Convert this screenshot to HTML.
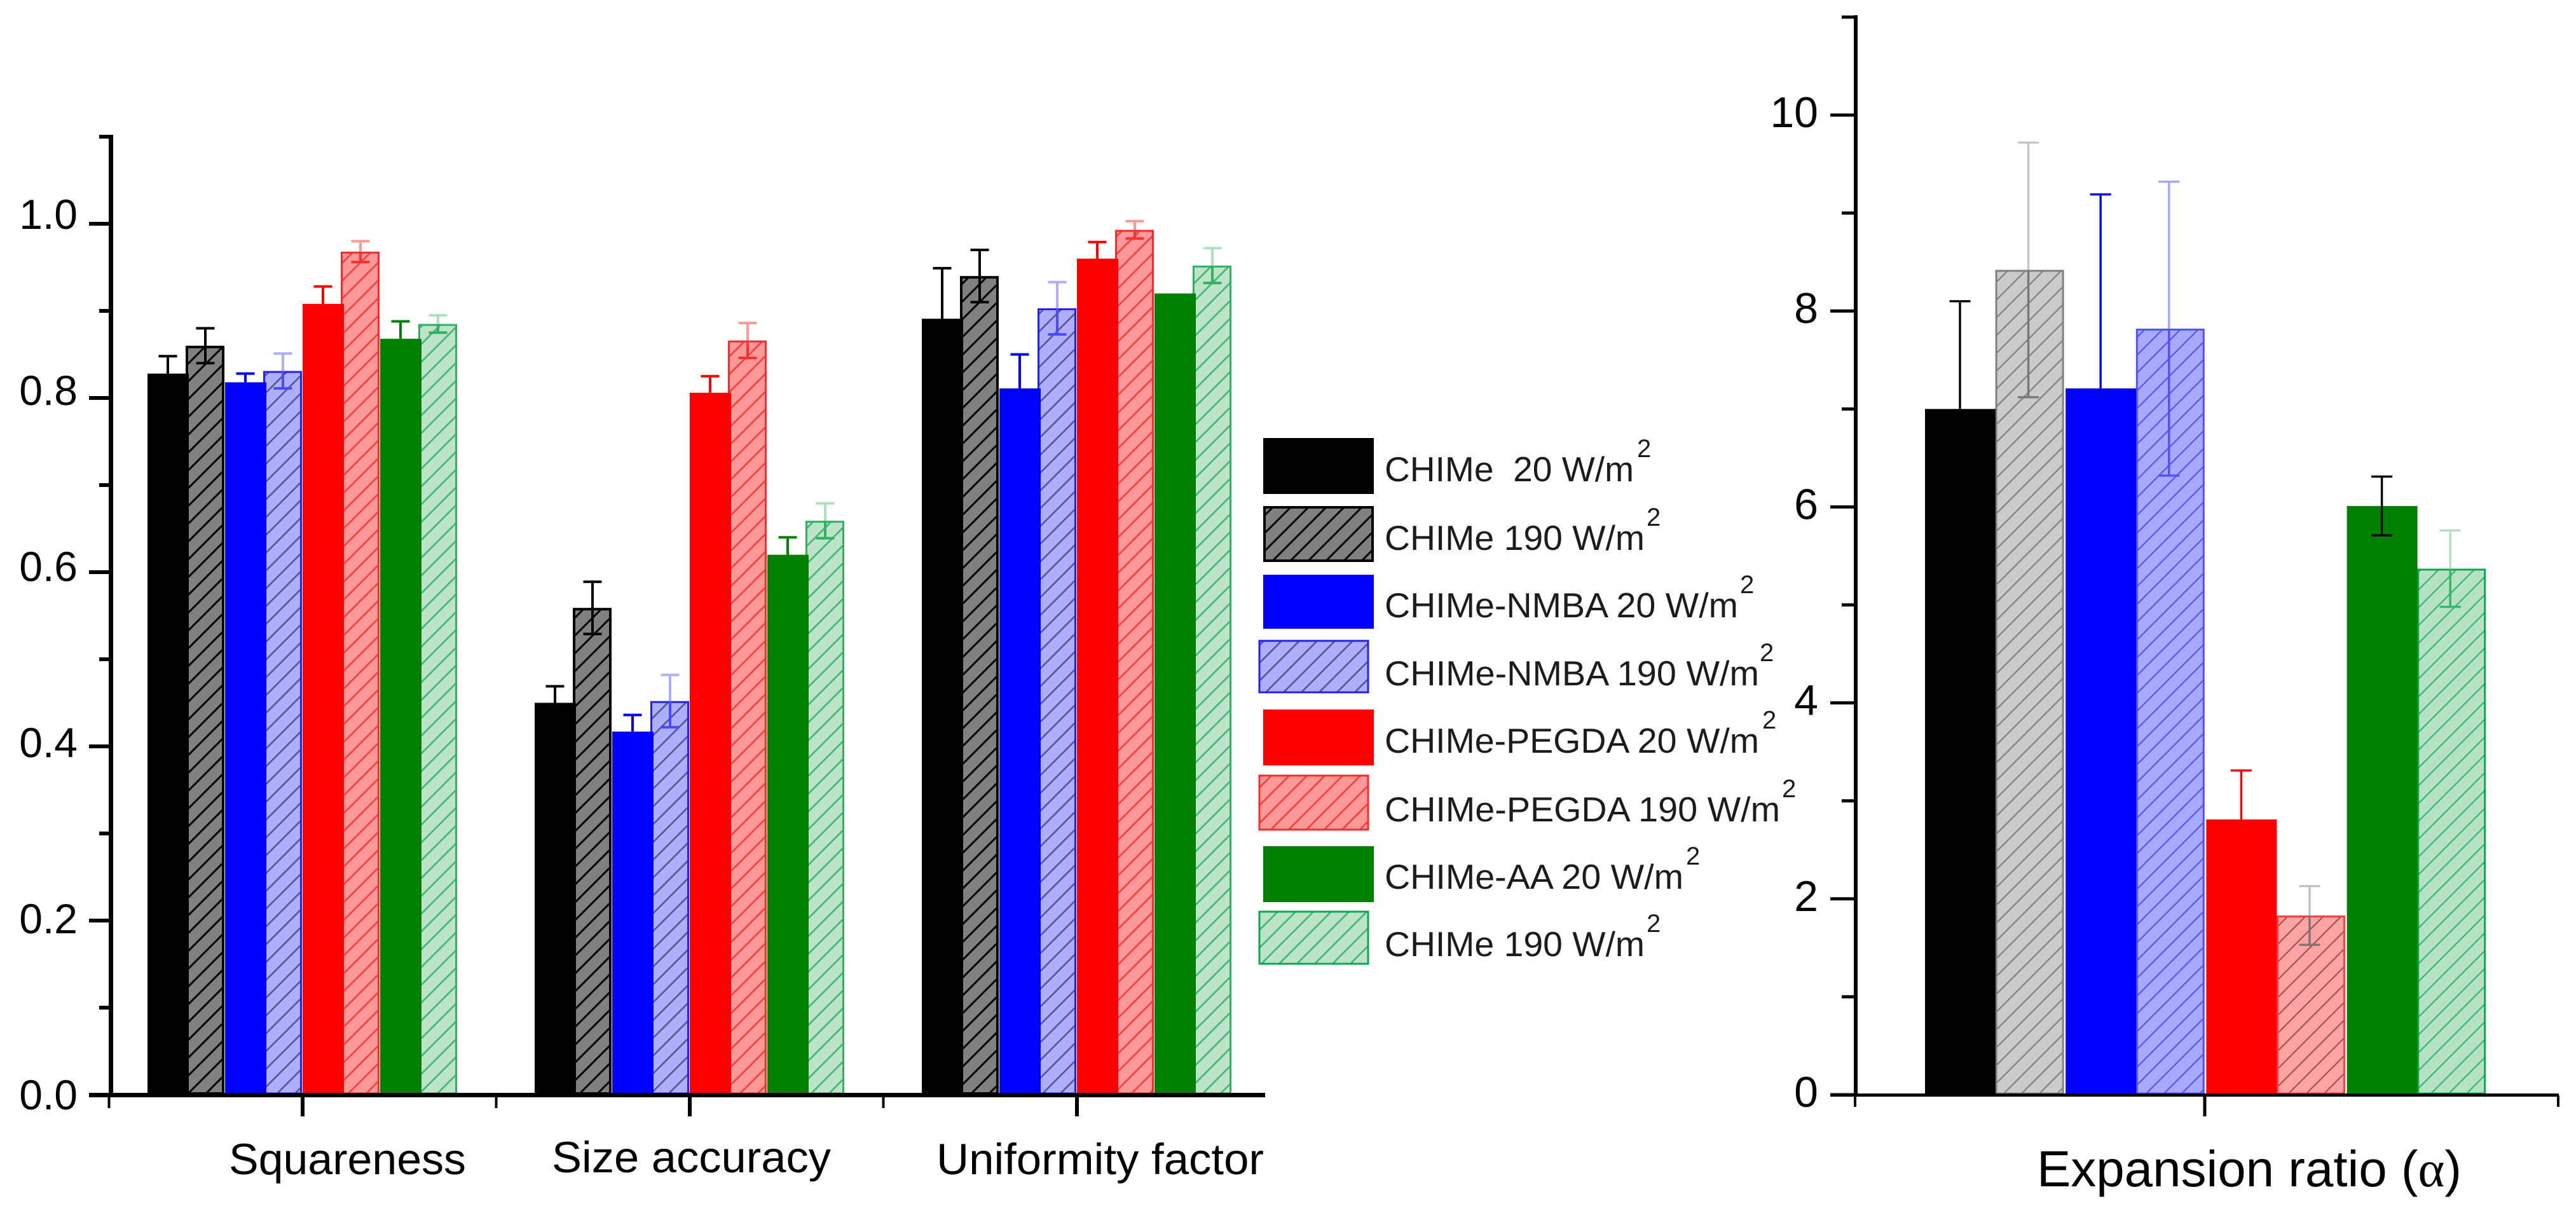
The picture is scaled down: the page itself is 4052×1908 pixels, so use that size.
<!DOCTYPE html>
<html lang="en">
<head>
<meta charset="utf-8">
<title>Squareness, size accuracy, uniformity factor and expansion ratio</title>
<style>
html,body{margin:0;padding:0;background:#fff;width:4052px;height:1908px;overflow:hidden}
svg{display:block}
text{font-family:"Liberation Sans",Arial,sans-serif;white-space:pre}
.lg{font-size:55px;fill:#1c1c1c}
.sp{font-size:40px;fill:#1c1c1c}
.xl{font-size:69px;fill:#000}
</style>
</head>
<body>
<svg id="figure" xmlns="http://www.w3.org/2000/svg" width="4052" height="1908" viewBox="0 0 4052 1908">
<defs>
<pattern id="h-grey" patternUnits="userSpaceOnUse" width="28" height="28"><rect width="28" height="28" fill="#808080"/><path d="M-4 4L4 -4M0 28L28 0M24 32L32 24" stroke="#000" stroke-width="3"/></pattern>
<pattern id="h-lav" patternUnits="userSpaceOnUse" width="28" height="28"><rect width="28" height="28" fill="#aeaefc"/><path d="M-4 4L4 -4M0 28L28 0M24 32L32 24" stroke="#55558f" stroke-width="2.6"/></pattern>
<pattern id="h-pink" patternUnits="userSpaceOnUse" width="28" height="28"><rect width="28" height="28" fill="#ff9999"/><path d="M-4 4L4 -4M0 28L28 0M24 32L32 24" stroke="#ff3c3c" stroke-width="2.6"/></pattern>
<pattern id="h-lime" patternUnits="userSpaceOnUse" width="28" height="28"><rect width="28" height="28" fill="#bde4c8"/><path d="M-4 4L4 -4M0 28L28 0M24 32L32 24" stroke="#3cb870" stroke-width="2.6"/></pattern>
<pattern id="r-grey" patternUnits="userSpaceOnUse" width="28" height="28"><rect width="28" height="28" fill="#cbcbcb"/><path d="M-4 4L4 -4M0 28L28 0M24 32L32 24" stroke="#808080" stroke-width="2.2"/></pattern>
<pattern id="r-lav" patternUnits="userSpaceOnUse" width="28" height="28"><rect width="28" height="28" fill="#a9a9ff"/><path d="M-4 4L4 -4M0 28L28 0M24 32L32 24" stroke="#5252ff" stroke-width="2.2"/></pattern>
<pattern id="r-pink" patternUnits="userSpaceOnUse" width="28" height="28"><rect width="28" height="28" fill="#ffa3a3"/><path d="M-4 4L4 -4M0 28L28 0M24 32L32 24" stroke="#995555" stroke-width="2.2"/></pattern>
<pattern id="r-lime" patternUnits="userSpaceOnUse" width="28" height="28"><rect width="28" height="28" fill="#b6e2c4"/><path d="M-4 4L4 -4M0 28L28 0M24 32L32 24" stroke="#35b56b" stroke-width="2.2"/></pattern>
</defs>
<rect width="4052" height="1908" fill="#fff"/>
<g id="left-chart"></g>
<g id="right-chart"></g>

<g>
<rect x="1987" y="689" width="174" height="88" fill="#000"/>
<text class="lg" x="2178" y="757" textLength="392" lengthAdjust="spacingAndGlyphs">CHIMe  20 W/m</text>
<text class="sp" x="2575" y="719">2</text>

<rect x="1989" y="798" width="170" height="84" fill="url(#h-grey)" stroke="#000" stroke-width="4"/>
<text class="lg" x="2178" y="865" textLength="409" lengthAdjust="spacingAndGlyphs">CHIMe 190 W/m</text>
<text class="sp" x="2590" y="827">2</text>

<rect x="1987" y="904" width="174" height="85" fill="#0000ff"/>
<text class="lg" x="2178" y="971" textLength="556" lengthAdjust="spacingAndGlyphs">CHIMe-NMBA 20 W/m</text>
<text class="sp" x="2737" y="933">2</text>

<rect x="1981" y="1008" width="171" height="81" fill="url(#h-lav)" stroke="#2020ff" stroke-width="3"/>
<text class="lg" x="2178" y="1078" textLength="589" lengthAdjust="spacingAndGlyphs">CHIMe-NMBA 190 W/m</text>
<text class="sp" x="2768" y="1040">2</text>

<rect x="1987" y="1116" width="174" height="88" fill="#ff0000"/>
<text class="lg" x="2178" y="1184" textLength="589" lengthAdjust="spacingAndGlyphs">CHIMe-PEGDA 20 W/m</text>
<text class="sp" x="2772" y="1146">2</text>

<rect x="1981" y="1220" width="171" height="85" fill="url(#h-pink)" stroke="#ff2a2a" stroke-width="3"/>
<text class="lg" x="2178" y="1292" textLength="622" lengthAdjust="spacingAndGlyphs">CHIMe-PEGDA 190 W/m</text>
<text class="sp" x="2803" y="1254">2</text>

<rect x="1987" y="1331" width="174" height="88" fill="#008000"/>
<text class="lg" x="2178" y="1398" textLength="470" lengthAdjust="spacingAndGlyphs">CHIMe-AA 20 W/m</text>
<text class="sp" x="2652" y="1360">2</text>

<rect x="1981" y="1434" width="171" height="82" fill="url(#h-lime)" stroke="#10a550" stroke-width="3"/>
<text class="lg" x="2178" y="1504" textLength="409" lengthAdjust="spacingAndGlyphs">CHIMe 190 W/m</text>
<text class="sp" x="2590" y="1466">2</text>
</g>

<text class="xl" x="360" y="1847" textLength="373" lengthAdjust="spacingAndGlyphs">Squareness</text>
<text class="xl" x="868" y="1844" textLength="439" lengthAdjust="spacingAndGlyphs">Size accuracy</text>
<text class="xl" x="1473" y="1847" textLength="515" lengthAdjust="spacingAndGlyphs">Uniformity factor</text>
<text x="3204" y="1866" font-size="80" fill="#000" textLength="668" lengthAdjust="spacingAndGlyphs">Expansion ratio (<tspan font-family="'Liberation Serif',serif">α</tspan>)</text>
</svg>

<script>
const seriesKeys = ['chime-20','chime-190','nmba-20','nmba-190','pegda-20','pegda-190','aa-20','aa-190'];
const metricKeys = ['squareness','size-accuracy','uniformity-factor'];

const squarenessValues = [0.828,0.860,0.818,0.831,0.908,0.968,0.868,0.885];
const squarenessErrors = [0.020,0.020,0.010,0.020,0.020,0.012,0.020,0.010];
const sizeAccuracyValues = [0.450,0.559,0.417,0.452,0.806,0.866,0.620,0.659];
const sizeAccuracyErrors = [0.019,0.030,0.019,0.030,0.019,0.020,0.020,0.020];
const uniformityValues = [0.891,0.940,0.811,0.903,0.960,0.993,0.920,0.952];
const uniformityErrors = [0.058,0.030,0.039,0.030,0.019,0.010,0,0.020];

const leftTickLabels = ['0.0','0.2','0.4','0.6','0.8','1.0'];
const leftTickValues = [0,0.2,0.4,0.6,0.8,1.0];
const leftMinorValues = [0.1,0.3,0.5,0.7,0.9,1.1];

const expansionValues = [7.0,8.42,7.21,7.82,2.81,1.83,6.01,5.37];
const expansionErrors = [1.1,1.30,1.98,1.50,0.50,0.30,0.30,0.39];

const rightTickLabels = ['0','2','4','6','8','10'];
const rightTickValues = [0,2,4,6,8,10];
const rightMinorValues = [1,3,5,7,9,11];

const SVGNS = 'http://www.w3.org/2000/svg';

const leftStyles = [
  {fill:'#000000', up:'#000000', down:'#000000', lower:false},
  {fill:'url(#h-grey)', stroke:'#000000', sw:4, up:'#000000', down:'#000000', lower:true},
  {fill:'#0000ff', up:'#0000ff', down:'#0000ff', lower:false},
  {fill:'url(#h-lav)', stroke:'#2020ff', sw:3, up:'#aeaeff', down:'#4a4aff', lower:true},
  {fill:'#ff0000', up:'#ff0000', down:'#ff0000', lower:false},
  {fill:'url(#h-pink)', stroke:'#ff2a2a', sw:3, up:'#ff9a9a', down:'#ff3030', lower:true},
  {fill:'#008000', up:'#008000', down:'#008000', lower:false},
  {fill:'url(#h-lime)', stroke:'#30b060', sw:3, up:'#b0e0c0', down:'#30b060', lower:true}
];
const rightStyles = [
  {fill:'#000000', up:'#000000', down:'#000000', lower:false},
  {fill:'url(#r-grey)', stroke:'#808080', sw:3, up:'#c4c4c4', down:'#777777', lower:true},
  {fill:'#0000ff', up:'#0000ff', down:'#0000ff', lower:false},
  {fill:'url(#r-lav)', stroke:'#5050ff', sw:3, up:'#a5a5ff', down:'#5050ff', lower:true},
  {fill:'#ff0000', up:'#ff0000', down:'#ff0000', lower:false},
  {fill:'url(#r-pink)', stroke:'#ff4040', sw:3, up:'#c0c0c0', down:'#777777', lower:true},
  {fill:'#008000', up:'#000000', down:'#000000', lower:true},
  {fill:'url(#r-lime)', stroke:'#10a550', sw:3, up:'#b0e0c0', down:'#35b56b', lower:true}
];

function yLeft(v){ return 1722 - v * 1370; }
function yLeftLabel(v){ return 1745 - v * 1385; }
function yRight(v){ return 1722 - v * 154.1; }
function xMetric(i){ return 476 + 609 * i; }
function xLeftSlot(i, j){ return xMetric(i) - 244 + 61 * j; }
function xRightSlot(j){ return 3028 + 110.6 * j; }

function put(parent, tag, attrs, content){
  const el = document.createElementNS(SVGNS, tag);
  for (const k in attrs) el.setAttribute(k, attrs[k]);
  if (content !== undefined) el.textContent = content;
  parent.appendChild(el);
  return el;
}

function drawBar(g, name, x, w, top, base, st){
  const inset = st.stroke ? st.sw / 2 : 0;
  const el = put(g, 'rect', {x:x + inset, y:top + inset, width:w - 2 * inset, height:base - top - inset, fill:st.fill});
  if (st.stroke) { el.setAttribute('stroke', st.stroke); el.setAttribute('stroke-width', st.sw); }
  
  
}

function drawError(g, name, cx, yTop, yMid, yBot, capW, lw, st){
  const eg = put(g, 'g', {});
  
  
  put(eg, 'line', {x1:cx, x2:cx, y1:yTop, y2:yMid, stroke:st.up, 'stroke-width':lw});
  put(eg, 'line', {x1:cx - capW / 2, x2:cx + capW / 2, y1:yTop, y2:yTop, stroke:st.up, 'stroke-width':lw});
  if (st.lower) {
    put(eg, 'line', {x1:cx, x2:cx, y1:yMid, y2:yBot, stroke:st.down, 'stroke-width':lw});
    put(eg, 'line', {x1:cx - capW / 2, x2:cx + capW / 2, y1:yBot, y2:yBot, stroke:st.down, 'stroke-width':lw});
  }
}

function drawLeft(){
  const g = document.getElementById('left-chart');
  const metricValues = [squarenessValues, sizeAccuracyValues, uniformityValues];
  const metricErrors = [squarenessErrors, sizeAccuracyErrors, uniformityErrors];
  metricValues.forEach(function(vals, i){
    [1,3,5,7,0,2,4,6].forEach(function(j){
      const hatched = j % 2 === 1;
      const x = hatched ? xLeftSlot(i, j) - 1 : xLeftSlot(i, j);
      drawBar(g, 'bar-' + metricKeys[i] + '-' + seriesKeys[j], x, hatched ? 61 : 65, yLeft(vals[j]), 1720, leftStyles[j]);
    });
  });
  metricValues.forEach(function(vals, i){
    vals.forEach(function(v, j){
      const e = metricErrors[i][j];
      if (!e) return;
      const hatched = j % 2 === 1;
      const cx = xLeftSlot(i, j) + (hatched ? 30 : 32);
      drawError(g, 'error-bar-' + metricKeys[i] + '-' + seriesKeys[j], cx, yLeft(v + e), yLeft(v), yLeft(v - e), 29, 4, leftStyles[j]);
    });
  });

  const yAxis = put(g, 'rect', {x:171, y:yLeft(1.1) - 3, width:7, height:yLeft(0) - yLeft(1.1) + 7, fill:'#000'});
  
  
  const xAxis = put(g, 'rect', {x:140, y:1719, width:1850, height:7, fill:'#000'});
  
  

  leftTickValues.forEach(function(v, k){
    const t = put(g, 'rect', {x:140, y:yLeft(v) - 3, width:32, height:6, fill:'#000'});
    
    
    const l = put(g, 'text', {x:122, y:yLeftLabel(v), 'text-anchor':'end', 'font-size':66, fill:'#000'}, leftTickLabels[k]);
    
    
  });
  leftMinorValues.forEach(function(v){
    const t = put(g, 'rect', {x:156, y:yLeft(v) - 3, width:16, height:6, fill:'#000'});
    
    
  });
  metricKeys.forEach(function(key, i){
    const major = put(g, 'rect', {x:xMetric(i) - 3, y:1724, width:6, height:32, fill:'#000'});
    
    
    const minor = put(g, 'rect', {x:xMetric(i) - 304.5 - 2, y:1724, width:4, height:19, fill:'#000'});
    
    
  });
}

function drawRight(){
  const g = document.getElementById('right-chart');
  [1,3,5,7,0,2,4,6].forEach(function(j){
    const hatched = j % 2 === 1;
    drawBar(g, 'bar-expansion-' + seriesKeys[j], xRightSlot(j), hatched ? 108 : 111, yRight(expansionValues[j]), 1720, rightStyles[j]);
  });
  expansionValues.forEach(function(v, j){
    const hatched = j % 2 === 1;
    const cx = xRightSlot(j) + (hatched ? 52 : 55);
    const e = expansionErrors[j];
    drawError(g, 'error-bar-expansion-' + seriesKeys[j], cx, yRight(v + e), yRight(v), yRight(v - e), 33, 3.4, rightStyles[j]);
  });

  const yAxis = put(g, 'rect', {x:2916, y:yRight(11) - 3, width:6, height:yRight(0) - yRight(11) + 6, fill:'#000'});
  
  
  const xAxis = put(g, 'rect', {x:2879, y:1720, width:1146, height:5, fill:'#000'});
  
  

  rightTickValues.forEach(function(v, k){
    const t = put(g, 'rect', {x:2879, y:yRight(v) - 2.5, width:38, height:5, fill:'#000'});
    
    
    const l = put(g, 'text', {x:2860, y:yRight(v) + 19, 'text-anchor':'end', 'font-size':68, fill:'#000'}, rightTickLabels[k]);
    
    
  });
  rightMinorValues.forEach(function(v){
    const t = put(g, 'rect', {x:2897, y:yRight(v) - 2.5, width:20, height:5, fill:'#000'});
    
    
  });
  const major = put(g, 'rect', {x:3465.5, y:1723, width:5, height:33, fill:'#000'});
  
  
  const minorA = put(g, 'rect', {x:2916, y:1723, width:4, height:18, fill:'#000'});
  
  
  const minorB = put(g, 'rect', {x:4022, y:1723, width:4, height:18, fill:'#000'});
  
  
}

drawLeft();
drawRight();
</script>
</body>
</html>
